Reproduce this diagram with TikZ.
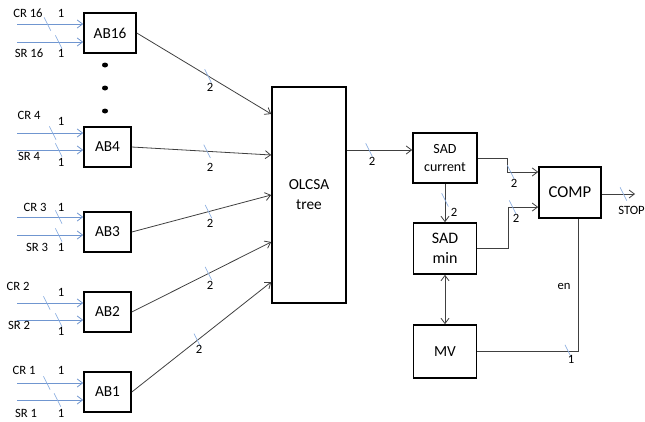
\documentclass[tikz,border=0pt]{standalone}
\usepackage{fontspec}
\setmainfont{Carlito}
\usetikzlibrary{arrows.meta,positioning,decorations.markings}
\definecolor{inblue}{RGB}{112,150,208}
\definecolor{tickblue}{RGB}{140,175,225}
\definecolor{wiregray}{RGB}{64,64,64}

\begin{document}
\begin{tikzpicture}[x=0.75pt, y=-0.75pt,
    blk/.style={draw, line width=1.2pt, align=center, inner sep=0pt, font=\fontsize{11.5}{15}\selectfont},
    inp/.style={-{Straight Barb[length=4pt,width=6pt]}, inblue, line width=0.6pt},
    wire/.style={wiregray, line width=0.6pt},
    arr/.style={wire, -{Straight Barb[length=4pt,width=6pt]}},
    lbl/.style={inner sep=0pt, font=\fontsize{9.5}{10}\selectfont},
    busmark/.style={postaction={decorate, decoration={markings, mark=at position #1 with
        {\pgftransformresetnontranslations \draw[-, tickblue, line width=0.5pt] (-2.5pt,5pt) -- (2.5pt,-5pt);}}}}
]
\useasboundingbox (0,0) rectangle (645,421);

% blocks
\node[blk, minimum width=39pt, minimum height=30pt] (ab16) at (110,33) {AB16};
\node[blk, minimum width=35.25pt, minimum height=30pt] (ab4) at (107.5,147) {AB4};
\node[blk, minimum width=35.25pt, minimum height=30pt] (ab3) at (107.5,232) {AB3};
\node[blk, minimum width=35.25pt, minimum height=30pt] (ab2) at (107.5,312) {AB2};
\node[blk, minimum width=35.25pt, minimum height=30pt] (ab1) at (107.5,392) {AB1};
\node[blk, minimum width=55.5pt, minimum height=162pt] (olcsa) at (309,195) {OLCSA\\tree};
\node[blk, minimum width=48pt, minimum height=37.5pt, font=\fontsize{10.5}{13.5}\selectfont] (sadcur) at (445,158) {SAD\\current};
\node[blk, minimum width=47.25pt, minimum height=38.25pt, font=\fontsize{12}{15}\selectfont] (sadmin) at (445,248.5) {SAD\\min};
\node[blk, minimum width=46.5pt, minimum height=38.25pt, font=\fontsize{12.5}{15}\selectfont] (comp) at (570,192.5) {COMP};
\node[blk, minimum width=47.25pt, minimum height=39.75pt] (mv) at (445,351.5) {MV};

\fill (105,65) ellipse (3 and 2.5);
\fill (105,88) ellipse (3 and 2.5);
\fill (105,111) ellipse (3 and 2.5);

% inputs
\coordinate (cr16) at (17,24);  \coordinate (sr16) at (17,42);
\coordinate (cr4) at (17,133);  \coordinate (sr4) at (17,150);
\coordinate (cr3) at (17,217);  \coordinate (sr3) at (17,235);
\coordinate (cr2) at (17,303);  \coordinate (sr2) at (17,320);
\coordinate (cr1) at (17,383);  \coordinate (sr1) at (17,400);
\draw[inp, busmark=0.46] (cr16) -- (cr16 -| ab16.west);
\draw[inp, busmark=0.63] (sr16) -- (sr16 -| ab16.west);
\draw[inp, busmark=0.54] (cr4) -- (cr4 -| ab4.west);
\draw[inp, busmark=0.63] (sr4) -- (sr4 -| ab4.west);
\draw[inp, busmark=0.63] (cr3) -- (cr3 -| ab3.west);
\draw[inp, busmark=0.63] (sr3) -- (sr3 -| ab3.west);
\draw[inp, busmark=0.45] (cr2) -- (cr2 -| ab2.west);
\draw[inp, busmark=0.63] (sr2) -- (sr2 -| ab2.west);
\draw[inp, busmark=0.45] (cr1) -- (cr1 -| ab1.west);
\draw[inp, busmark=0.61] (sr1) -- (sr1 -| ab1.west);

\node[lbl] (tcr16) at (28,13) {CR 16};  \node[lbl] (wcr16) at (61,13) {1};
\node[lbl] (tsr16) at (29,53) {SR 16};  \node[lbl] (wsr16) at (61,53) {1};
\node[lbl] (tcr4) at (29,115) {CR 4};   \node[lbl] (wcr4) at (61,121) {1};
\node[lbl] (tsr4) at (29,156) {SR 4};   \node[lbl] (wsr4) at (61,162) {1};
\node[lbl] (tcr3) at (35,207) {CR 3};   \node[lbl] (wcr3) at (61,207) {1};
\node[lbl] (tsr3) at (37,247) {SR 3};   \node[lbl] (wsr3) at (61,247) {1};
\node[lbl] (tcr2) at (18,286) {CR 2};   \node[lbl] (wcr2) at (61,292) {1};
\node[lbl] (tsr2) at (19,325) {SR 2};   \node[lbl] (wsr2) at (61,331) {1};
\node[lbl] (tcr1) at (24,370) {CR 1};   \node[lbl] (wcr1) at (61,370) {1};
\node[lbl] (tsr1) at (26,413) {SR 1};   \node[lbl] (wsr1) at (61,413) {1};

% into the tree
\draw[arr, busmark=0.53] (ab16.east) -- ([yshift=60.75pt]olcsa.west);
\draw[arr, busmark=0.54] (ab4.east) -- ([yshift=30pt]olcsa.west);
\draw[arr, busmark=0.55] (ab3.east) -- (olcsa.west);
\draw[arr, busmark=0.55] (ab2.east) -- ([yshift=-35.25pt]olcsa.west);
\draw[arr, busmark=0.47] (ab1.east) -- ([yshift=-65.25pt]olcsa.west);
\node[lbl] (w16) at (210,87) {2};
\node[lbl] (w4) at (210,167) {2};
\node[lbl] (w3) at (210,223) {2};
\node[lbl] (w2) at (210,285) {2};
\node[lbl] (w1) at (199,349) {2};

% SAD / compare
\draw[arr, busmark=0.34] ([yshift=33.75pt]olcsa.east) coordinate (o1) -- (o1 -| sadcur.west);
\draw[arr, busmark=0.42] (sadcur.south) -- (sadmin.north);
\draw[arr, busmark=0.63] (sadcur.east) -- ++(30,0) |- ([yshift=15.4pt]comp.west);
\draw[arr, busmark=0.75] (sadmin.east) -- ++(31,0) |- ([yshift=-10.9pt]comp.west);
\draw[wire, {Straight Barb[length=4pt,width=6pt]}-{Straight Barb[length=4pt,width=6pt]}] (sadmin.south) -- (mv.north);
\draw[wire, busmark=0.39] (mv.east) -| ([xshift=6pt]comp.south);
\coordinate (stop) at (635,194);
\draw[arr, busmark=0.65] (comp.east |- stop) -- (stop);
\node[lbl] (wo) at (372,161) {2};
\node[lbl] (wsm) at (454,212) {2};
\node[lbl] (wc1) at (514,183) {2};
\node[lbl] (wc2) at (516,218) {2};
\node[lbl] (en) at (564,286) {en};
\node[lbl] (wmv) at (571,359) {1};
\node[lbl, anchor=west] (tstop) at (618,210) {STOP};
\end{tikzpicture}
\end{document}
